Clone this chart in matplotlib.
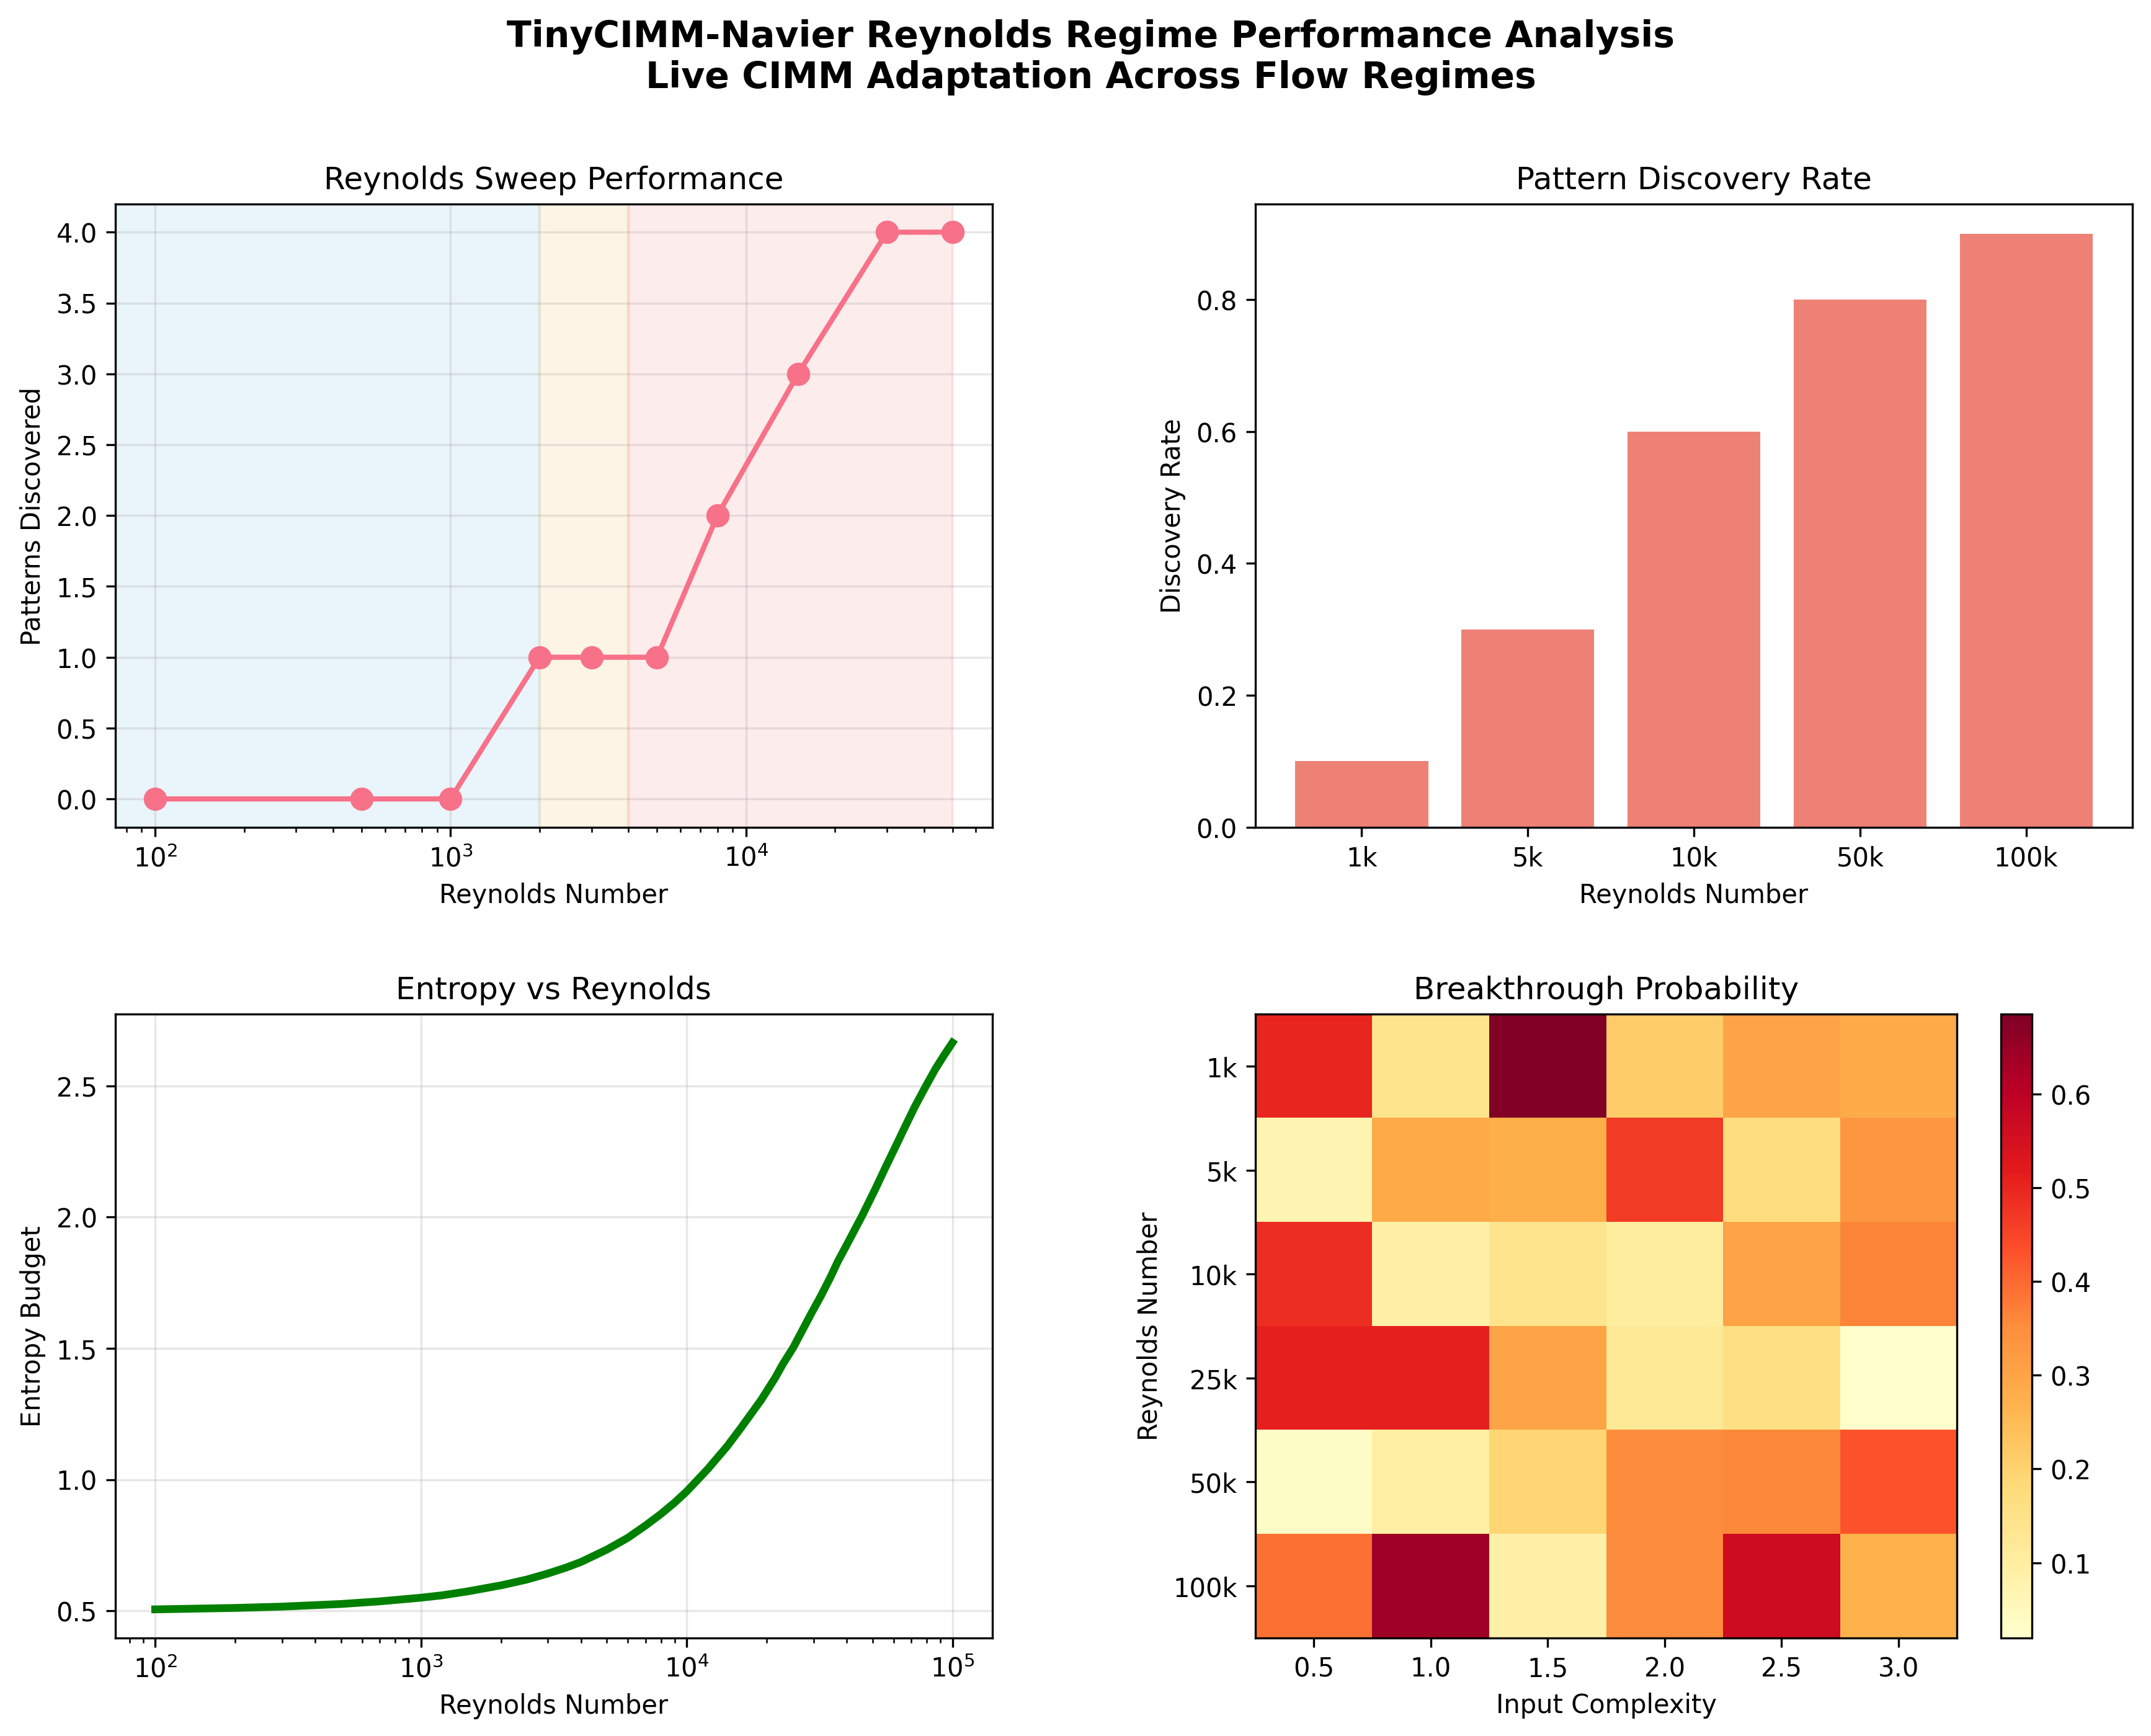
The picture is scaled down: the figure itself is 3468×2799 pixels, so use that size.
import matplotlib
matplotlib.use("Agg")
import matplotlib.pyplot as plt

re_sweep = [100, 500, 1000, 2000, 3000, 5000, 8000, 15000, 30000, 50000]
patterns = [0, 0, 0, 1, 1, 1, 2, 3, 4, 4]
regime_bounds = [1, 2000, 4000, 50000]
regime_colors = ['#3498db', '#f39c12', '#e74c3c']

rate_labels = ['1k', '5k', '10k', '50k', '100k']
rates = [0.1, 0.3, 0.6, 0.8, 0.9]

entropy_re = [100, 200, 300, 500, 700, 1000, 1200, 1500, 2000, 2500, 3000, 3500, 4000, 5000, 6000, 7000, 8000, 9000,
              10000, 12000, 14200, 16000, 19050, 21500, 23000, 25200, 29500, 32000, 34700, 37000, 39800, 45700, 51300,
              56000, 61500, 66000, 72100, 79000, 86300, 93000, 100000]
entropy = [0.5055, 0.511, 0.516, 0.526, 0.536, 0.55, 0.559, 0.574, 0.597, 0.619, 0.642, 0.664, 0.686, 0.733, 0.778, 0.825, 0.869, 0.912,
           0.955, 1.04, 1.127, 1.197, 1.303, 1.387, 1.44, 1.504, 1.635, 1.70, 1.77, 1.83, 1.89, 2.005, 2.108,
           2.19, 2.275, 2.34, 2.42, 2.495, 2.565, 2.617, 2.665]

heat_rows = ['1k', '5k', '10k', '25k', '50k', '100k']
heat_cols = ['0.5', '1.0', '1.5', '2.0', '2.5', '3.0']
heat = [[0.50, 0.14, 0.685, 0.21, 0.30, 0.28],
        [0.07, 0.285, 0.275, 0.465, 0.17, 0.33],
        [0.485, 0.09, 0.14, 0.105, 0.30, 0.365],
        [0.51, 0.51, 0.30, 0.12, 0.16, 0.02],
        [0.03, 0.095, 0.19, 0.35, 0.36, 0.43],
        [0.39, 0.641, 0.09, 0.35, 0.565, 0.27]]

fig, axes = plt.subplots(2, 2, figsize=(11.563, 9.333), dpi=300)
fig.suptitle('TinyCIMM-Navier Reynolds Regime Performance Analysis\nLive CIMM Adaptation Across Flow Regimes',
             fontsize=14, fontweight='bold', x=0.507, y=0.989)

ax = axes[0, 0]
ax.semilogx(re_sweep, patterns, 'o-', color='#f77189', linewidth=2, markersize=8)
for i, c in enumerate(regime_colors):
    ax.axvspan(regime_bounds[i], regime_bounds[i + 1], alpha=0.1, color=c)
ax.set_xlim(73.3, 68200)
ax.set_title('Reynolds Sweep Performance')
ax.set_xlabel('Reynolds Number')
ax.set_ylabel('Patterns Discovered')
ax.grid(True, alpha=0.3)

ax = axes[0, 1]
ax.bar(rate_labels, rates, color='#e74c3c', alpha=0.7)
ax.set_title('Pattern Discovery Rate')
ax.set_xlabel('Reynolds Number')
ax.set_ylabel('Discovery Rate')

ax = axes[1, 0]
ax.semilogx(entropy_re, entropy, color='green', linewidth=3)
ax.set_title('Entropy vs Reynolds')
ax.set_xlabel('Reynolds Number')
ax.set_ylabel('Entropy Budget')
ax.grid(True, alpha=0.3)

ax = axes[1, 1]
im = ax.imshow(heat, cmap='YlOrRd', aspect='auto')
ax.set_xticks(range(len(heat_cols)), heat_cols)
ax.set_yticks(range(len(heat_rows)), heat_rows)
ax.set_title('Breakthrough Probability')
ax.set_xlabel('Input Complexity')
ax.set_ylabel('Reynolds Number')
fig.colorbar(im, ax=ax)

fig.subplots_adjust(left=0.0536, right=0.9911, top=0.8823, bottom=0.0566, wspace=0.30, hspace=0.30)
fig.savefig('out.png', dpi=300)
